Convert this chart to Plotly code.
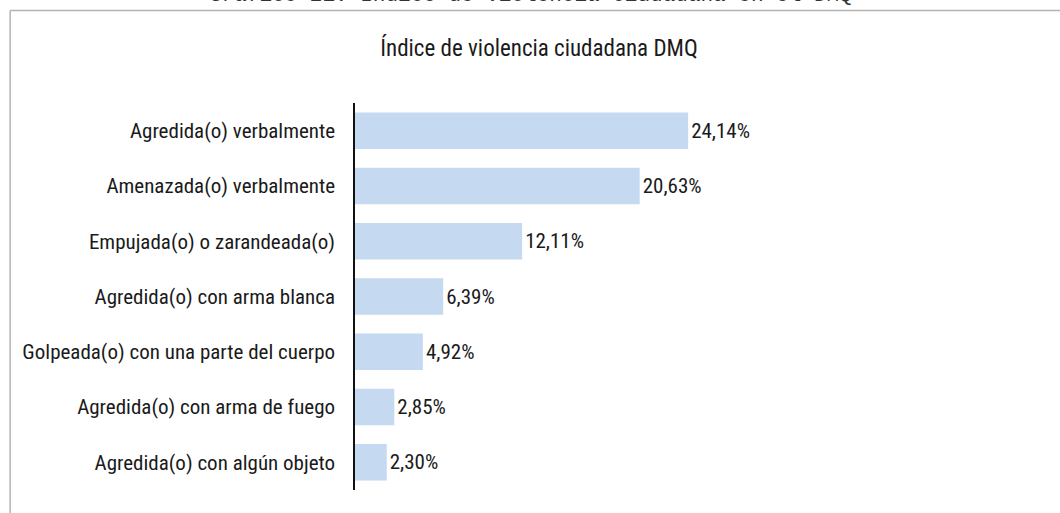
import plotly.graph_objects as go

categories = [
    "Agredida(o) verbalmente",
    "Amenazada(o) verbalmente",
    "Empujada(o) o zarandeada(o)",
    "Agredida(o) con arma blanca",
    "Golpeada(o) con una parte del cuerpo",
    "Agredida(o) con arma de fuego",
    "Agredida(o) con algún objeto",
]
values = [24.14, 20.63, 12.11, 6.39, 4.92, 2.85, 2.30]

COND = "Roboto Condensed, Liberation Sans Narrow, DejaVu Sans Condensed, Roboto, sans-serif"

fig = go.Figure()
fig.add_trace(
    go.Bar(
        x=values,
        y=categories,
        orientation="h",
        marker=dict(color="#c5daf0", line=dict(width=0)),
        texttemplate="%{x:.2f}%",
        textposition="outside",
        textfont=dict(family=COND, size=21, color="#1a1a1a"),
        cliponaxis=False,
    )
)

fig.update_layout(
    width=1060,
    height=513,
    margin=dict(l=355, r=291, t=103, b=23),
    paper_bgcolor="white",
    plot_bgcolor="white",
    separators=",.",
    bargap=0.34,
    showlegend=False,
    title=dict(
        text="Índice de violencia ciudadana DMQ",
        x=539 / 1060,
        xanchor="center",
        y=1 - 48 / 513,
        yanchor="middle",
        font=dict(family=COND, size=23, color="#1a1a1a"),
    ),
    xaxis=dict(range=[0, 30], visible=False, fixedrange=True),
    yaxis=dict(
        autorange="reversed",
        showline=True,
        linecolor="#111111",
        linewidth=1.5,
        ticks="",
        ticklabelstandoff=14,
        tickfont=dict(family=COND, size=21, color="#1a1a1a"),
        showgrid=False,
    ),
)

# recuadro del gráfico
frame = dict(color="#b3b3b3", width=1.5)
fig.add_shape(type="line", xref="paper", yref="paper", x0=-0.833, x1=2, y0=1.239, y1=1.239, line=frame)
fig.add_shape(type="line", xref="paper", yref="paper", x0=-0.833, x1=-0.833, y0=1.239, y1=-0.2, line=frame)

# leyenda del documento (cortada arriba)
fig.add_annotation(
    text="Gráfico 21. Índice de violencia ciudadana en el DMQ",
    xref="paper", yref="paper",
    x=(530 - 355) / 414, y=1.244,
    xanchor="center", yanchor="bottom",
    showarrow=False,
    font=dict(family="Liberation Mono, DejaVu Sans Mono, monospace", size=21, color="#333333"),
)

# quitar el margen del body para que el gráfico empiece en (0, 0)
fig.write_html(
    "out.html",
    config={"displayModeBar": False},
    post_script="document.body.style.margin='0';",
)
